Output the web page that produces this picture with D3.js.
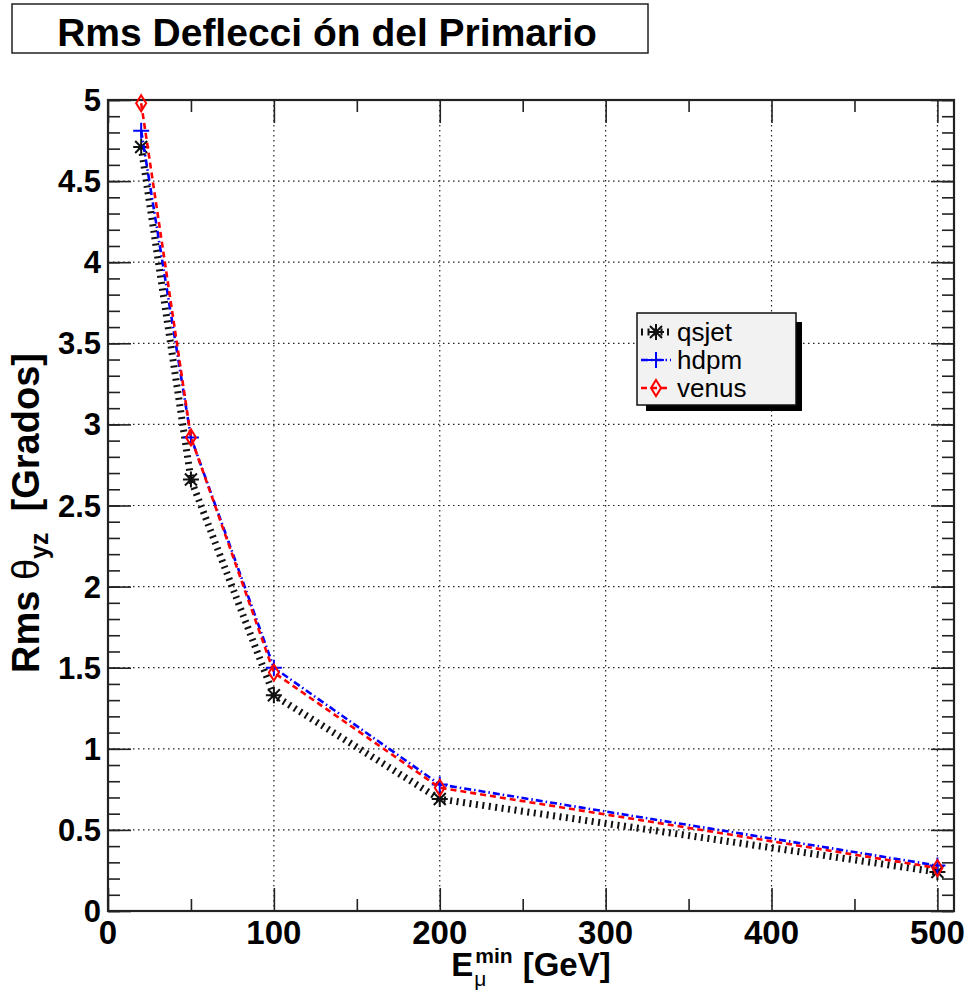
<!DOCTYPE html>
<html>
<head>
<meta charset="utf-8">
<script src="https://cdn.jsdelivr.net/npm/d3@7"></script>
<style>
  body { margin: 0; background: #fff; }
  text { font-family: "Liberation Sans", Arial, Helvetica, sans-serif; }
</style>
</head>
<body>
<script>
// data
const energies = [20, 50, 100, 200, 500];
const qsjet = [4.71, 2.66, 1.33, 0.69, 0.24];
const hdpm  = [4.81, 2.92, 1.50, 0.78, 0.28];
const venus = [4.98, 2.92, 1.47, 0.76, 0.265];

const xMajor = [0, 100, 200, 300, 400, 500];
const xMinor = [50, 150, 250, 350, 450];
const yMajor = [0, 0.5, 1, 1.5, 2, 2.5, 3, 3.5, 4, 4.5, 5];
const yMinor = d3.range(0, 5.01, 0.1);
const yLabels = ["0", "0.5", "1", "1.5", "2", "2.5", "3", "3.5", "4", "4.5", "5"];

const w = 969;
const h = 993;
const padL = 108, padR = 954, padT = 100, padB = 911;

const xScale = d3.scaleLinear().domain([0, 510]).range([padL, padR]);
const yScale = d3.scaleLinear().domain([0, 5]).range([padB, padT]);

const svg = d3.select("body")
              .append("svg")
              .attr("width", w)
              .attr("height", h);

// grid
svg.append("g")
  .selectAll("line")
  .data(xMajor.slice(1))
  .enter()
  .append("line")
  .attr("x1", d => xScale(d)).attr("x2", d => xScale(d))
  .attr("y1", padT).attr("y2", padB)
  .attr("stroke", "#222").attr("stroke-width", 1.2)
  .attr("stroke-dasharray", "1.5,3.5");

svg.append("g")
  .selectAll("line")
  .data(yMajor.slice(1, -1))
  .enter()
  .append("line")
  .attr("x1", padL).attr("x2", padR)
  .attr("y1", d => yScale(d)).attr("y2", d => yScale(d))
  .attr("stroke", "#222").attr("stroke-width", 1.2)
  .attr("stroke-dasharray", "1.5,3.5");

// ticks on all four sides, pointing inward
function ticks(axis, vals, size, transform) {
  const g = svg.append("g")
    .attr("transform", transform)
    .call(axis.tickValues(vals).tickSize(-size).tickFormat(""));
  g.select(".domain").remove();
  g.selectAll(".tick line").attr("stroke", "#222").attr("stroke-width", 1.6);
}
ticks(d3.axisBottom(xScale), xMajor, 23, `translate(0,${padB})`);
ticks(d3.axisBottom(xScale), xMinor, 12, `translate(0,${padB})`);
ticks(d3.axisTop(xScale), xMajor, 23, `translate(0,${padT})`);
ticks(d3.axisTop(xScale), xMinor, 12, `translate(0,${padT})`);
ticks(d3.axisLeft(yScale), yMajor, 23, `translate(${padL},0)`);
ticks(d3.axisLeft(yScale), yMinor, 12, `translate(${padL},0)`);
ticks(d3.axisRight(yScale), yMajor, 23, `translate(${padR},0)`);
ticks(d3.axisRight(yScale), yMinor, 12, `translate(${padR},0)`);

// frame
svg.append("rect")
  .attr("x", padL).attr("y", padT)
  .attr("width", padR - padL).attr("height", padB - padT)
  .attr("fill", "none").attr("stroke", "#222").attr("stroke-width", 2.2);

// tick labels
svg.append("g")
  .selectAll("text")
  .data(xMajor)
  .enter()
  .append("text")
  .attr("x", d => xScale(d)).attr("y", 944)
  .attr("text-anchor", "middle")
  .attr("font-size", 33).attr("font-weight", "bold")
  .text(d => d);

svg.append("g")
  .selectAll("text")
  .data(yMajor)
  .enter()
  .append("text")
  .attr("x", 101).attr("y", d => yScale(d) + 11)
  .attr("text-anchor", "end")
  .attr("font-size", 31).attr("font-weight", "bold")
  .text((d, i) => yLabels[i]);

// series
const series = [
  { name: "qsjet", values: qsjet, color: "#111", width: 7, dash: "2,4.5", marker: "star" },
  { name: "hdpm", values: hdpm, color: "#0000ff", width: 2.6, dash: "7,3,1.5,3", marker: "plus" },
  { name: "venus", values: venus, color: "#ff0000", width: 2.6, dash: "6,4", marker: "diamond" }
];

function marker(g, type, color) {
  if (type === "star") {
    g.append("path")
      .attr("d", "M-8,0H8M0,-8V8M-6,-6L6,6M-6,6L6,-6")
      .attr("stroke", color).attr("stroke-width", 2).attr("fill", "none");
  } else if (type === "plus") {
    g.append("path")
      .attr("d", "M-8,0H8M0,-8V8")
      .attr("stroke", color).attr("stroke-width", 2).attr("fill", "none");
  } else {
    g.append("path")
      .attr("d", "M0,-8L5,0L0,8L-5,0Z")
      .attr("stroke", color).attr("stroke-width", 2).attr("fill", "none");
  }
}

const line = d3.line()
  .x((d, i) => xScale(energies[i]))
  .y(d => yScale(d));

series.forEach(s => {
  svg.append("path")
    .datum(s.values)
    .attr("d", line)
    .attr("fill", "none")
    .attr("stroke", s.color)
    .attr("stroke-width", s.width)
    .attr("stroke-dasharray", s.dash);
  svg.append("g")
    .selectAll("g")
    .data(s.values)
    .enter()
    .append("g")
    .attr("transform", (d, i) => `translate(${xScale(energies[i])},${yScale(d)})`)
    .each(function() { marker(d3.select(this), s.marker, s.color); });
});

// legend
svg.append("rect")
  .attr("x", 646).attr("y", 322).attr("width", 156).attr("height", 89)
  .attr("fill", "#000");
svg.append("rect")
  .attr("x", 637).attr("y", 313).attr("width", 159).attr("height", 92)
  .attr("fill", "#f2f2f2").attr("stroke", "#111").attr("stroke-width", 1.5);

series.forEach((s, i) => {
  const ly = 332 + i * 28;
  svg.append("line")
    .attr("x1", 641).attr("x2", 671).attr("y1", ly).attr("y2", ly)
    .attr("stroke", s.color)
    .attr("stroke-width", s.width)
    .attr("stroke-dasharray", s.dash);
  const g = svg.append("g").attr("transform", `translate(656,${ly})`);
  marker(g, s.marker, s.color);
  svg.append("text")
    .attr("x", 677).attr("y", ly + 9)
    .attr("font-size", 26)
    .text(s.name);
});

// title box
svg.append("rect")
  .attr("x", 12).attr("y", 4).attr("width", 636).attr("height", 49)
  .attr("fill", "#fff").attr("stroke", "#222").attr("stroke-width", 1.5);
svg.append("text")
  .attr("x", 327).attr("y", 46)
  .attr("text-anchor", "middle")
  .attr("font-size", 39).attr("font-weight", "bold")
  .text("Rms Deflecci ón del Primario");

// x axis title: E with stacked sub/superscript
const xt = svg.append("g");
const eText = xt.append("text")
  .attr("font-size", 33).attr("font-weight", "bold")
  .attr("x", 0).attr("y", 0).text("E");
const eW = eText.node().getComputedTextLength();
const sup = xt.append("text")
  .attr("font-size", 21).attr("font-weight", "bold")
  .attr("x", eW + 2).attr("y", -13).text("min");
xt.append("text")
  .attr("font-size", 21)
  .attr("x", eW + 1).attr("y", 10).text("μ");
const supW = sup.node().getComputedTextLength();
const gev = xt.append("text")
  .attr("font-size", 33).attr("font-weight", "bold")
  .attr("x", eW + 2 + supW + 10).attr("y", 0).text("[GeV]");
const totalW = eW + 2 + supW + 10 + gev.node().getComputedTextLength();
xt.attr("transform", `translate(${(padL + padR) / 2 - totalW / 2},976)`);

// y axis title, rotated
const yt = svg.append("text")
  .attr("transform", `translate(39,513) rotate(-90)`)
  .attr("text-anchor", "middle")
  .attr("font-size", 38).attr("font-weight", "bold");
yt.append("tspan").text("Rms ");
yt.append("tspan").attr("font-weight", "normal").text("θ");
yt.append("tspan").attr("font-size", 25).attr("dy", 9).text("yz");
yt.append("tspan").attr("dy", -9).text("\u00a0 [Grados]");
</script>
</body>
</html>
